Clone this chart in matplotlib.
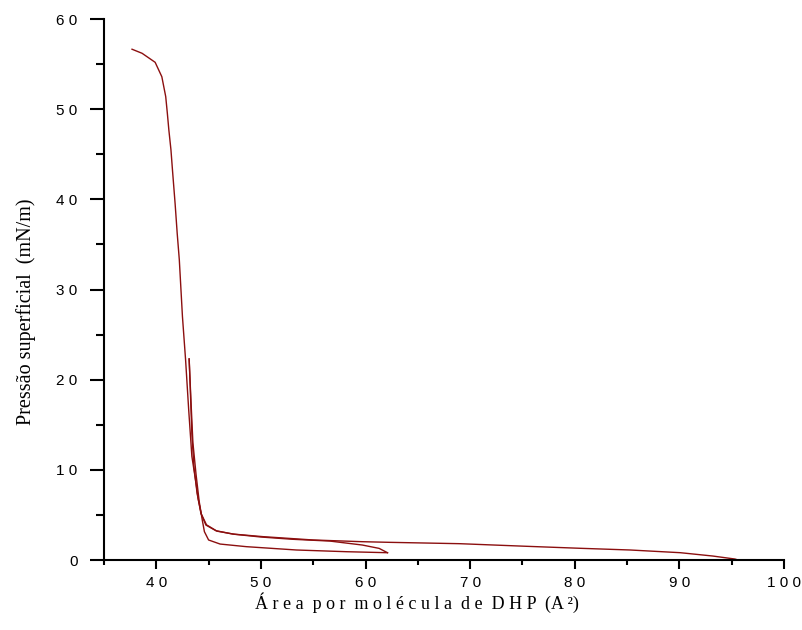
import numpy as np
import matplotlib
matplotlib.use("Agg")
import matplotlib.pyplot as plt
from matplotlib.ticker import MultipleLocator

# isoterma de compressao / expansao (DHP)
# 1a compressao: de 95 A2 ate ~22 mN/m
x1 = [95.4, 95.3, 93.2, 90.1, 85.3, 80.5, 75.4, 69.0, 62.3, 59.7, 55.0, 50.2,
      47.3, 45.7, 44.74, 44.27, 43.9, 43.6, 43.4, 43.25, 43.14]
y1 = [0.08, 0.11, 0.44, 0.81, 1.11, 1.30, 1.52, 1.81, 1.96, 2.03, 2.22, 2.59,
      2.88, 3.25, 3.88, 5.17, 7.4, 10.3, 14.0, 19.0, 22.3]

# expansao
x2 = [43.14, 43.3, 43.5, 43.8, 44.1, 44.4, 44.6, 45.0, 46.1, 48.6, 53.4, 58.2, 62.1]
y2 = [22.3, 18.0, 13.0, 9.5, 6.5, 4.4, 3.14, 2.22, 1.77, 1.48, 1.11, 0.92, 0.81]

# 2a compressao ate o colapso
x3 = [62.1, 61.3, 59.7, 56.6, 53.0, 50.0, 47.5, 45.8, 44.8, 44.3, 44.0, 43.8,
      43.4, 43.1, 42.8, 42.5, 42.2, 42.0, 41.8, 41.55, 41.4, 41.2, 41.06, 40.9,
      40.53, 39.89, 38.64, 37.68]
y3 = [0.81, 1.29, 1.66, 2.1, 2.3, 2.55, 2.85, 3.2, 3.9, 5.1, 6.8, 8.5,
      11.5, 16.6, 22.2, 27.0, 33.3, 36.2, 39.5, 43.2, 45.5, 47.7, 49.5, 51.4,
      53.6, 55.2, 56.2, 56.65]

x_ticks = [40, 50, 60, 70, 80, 90, 100]
y_ticks = [0, 10, 20, 30, 40, 50, 60]

cor = "#8b0f0f"
serif = ["Liberation Serif", "DejaVu Serif"]

fig = plt.figure(figsize=(8.03, 6.30), dpi=100)
ax = fig.add_axes([0.1295, 0.1111, 0.8468, 0.8587])

ax.plot(x1, y1, color=cor, lw=1.0)
ax.plot(x2, y2, color=cor, lw=1.0)
ax.plot(x3, y3, color=cor, lw=1.0)

ax.set_xlim(35, 100)
ax.set_ylim(0, 60)

for s in ["top", "right"]:
    ax.spines[s].set_visible(False)
for s in ["left", "bottom"]:
    ax.spines[s].set_linewidth(1.5)

# rotulos com os digitos espacados, como no original
ax.set_xticks(x_ticks)
ax.set_xticklabels([" ".join(str(v)) for v in x_ticks],
                   fontfamily="Liberation Sans", fontsize=11)
ax.set_yticks(y_ticks)
ax.set_yticklabels([" ".join(str(v)) for v in y_ticks],
                   fontfamily="Liberation Sans", fontsize=11)
ax.xaxis.set_minor_locator(MultipleLocator(5))
ax.yaxis.set_minor_locator(MultipleLocator(5))

ax.tick_params(axis="x", which="major", direction="out", length=6.5, width=1.5, pad=5)
ax.tick_params(axis="x", which="minor", direction="out", length=3.6, width=1.5)
ax.tick_params(axis="y", which="major", direction="out", length=10, width=1.5, pad=9)
ax.tick_params(axis="y", which="minor", direction="out", length=5.5, width=1.5)

ax.set_xlabel("Á r e a  p o r  m o l é c u l a  d e  D H P  (A ²)",
              fontfamily=serif, fontsize=13)
ax.xaxis.set_label_coords(0.46, -0.060)

ax.set_ylabel("Pressão superficial  (mN/m)", fontfamily=serif, fontsize=14.5)
ax.yaxis.set_label_coords(-0.10, 0.458)

fig.savefig("out.png", dpi=100)
